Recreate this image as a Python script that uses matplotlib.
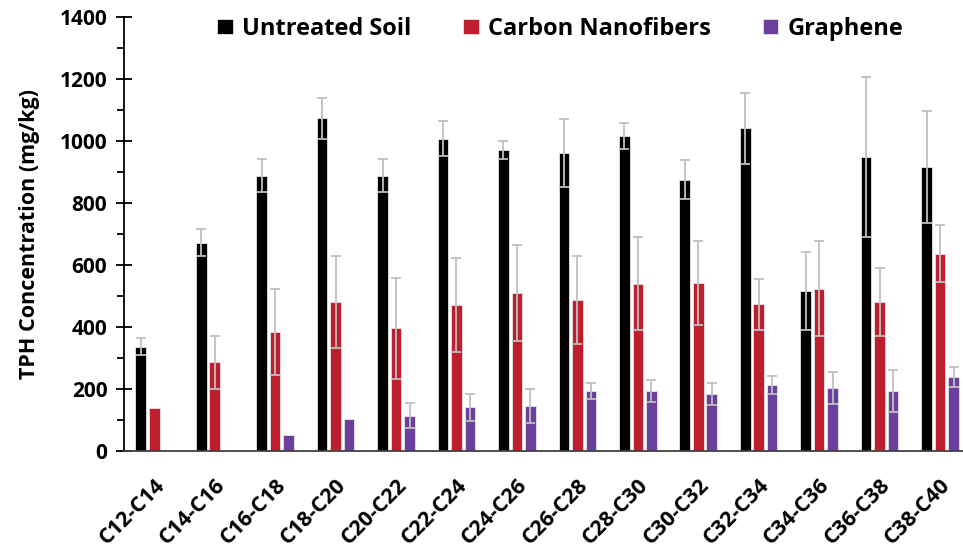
import numpy as np
import matplotlib.pyplot as plt
from matplotlib.ticker import MultipleLocator

plt.rcParams['font.family'] = ['Open Sans', 'DejaVu Sans']

# data
fractions = ['C12-C14', 'C14-C16', 'C16-C18', 'C18-C20', 'C20-C22', 'C22-C24', 'C24-C26',
             'C26-C28', 'C28-C30', 'C30-C32', 'C32-C34', 'C34-C36', 'C36-C38', 'C38-C40']
untreated = [336, 672, 888, 1073, 888, 1008, 971, 962, 1016, 876, 1041, 516, 949, 917]
untreated_err = [27, 44, 53, 65, 53, 57, 28, 109, 41, 63, 114, 125, 257, 181]
cnf = [138, 286, 385, 480, 396, 470, 509, 487, 539, 542, 473, 524, 482, 636]
cnf_err = [0, 85, 139, 148, 163, 152, 155, 142, 150, 135, 83, 153, 110, 92]
graphene = [0, 0, 52, 102, 114, 141, 145, 194, 194, 183, 213, 204, 194, 239]
graphene_err = [0, 0, 0, 0, 40, 43, 55, 25, 36, 35, 29, 51, 67, 32]

series = [
    ('Untreated Soil', untreated, untreated_err, '#000000'),
    ('Carbon Nanofibers', cnf, cnf_err, '#BE1E2D'),
    ('Graphene', graphene, graphene_err, '#6A409C'),
]

fig = plt.figure(figsize=(9.63, 5.54), dpi=100)
ax = fig.add_axes([0.1288, 0.186, 0.8712, 0.783])

x = np.arange(len(fractions))
w = 0.175
step = 0.223
for i, (name, vals, errs, col) in enumerate(series):
    pos = x + (i - 1) * step
    ax.bar(pos, vals, width=w, color=col, edgecolor='#e6e6e6', linewidth=0.6, label=name, zorder=2)
    errs = np.array(errs, dtype=float)
    m = errs > 0
    ax.errorbar(pos[m], np.array(vals)[m], yerr=errs[m], fmt='none', ecolor='#BFBFBF',
                elinewidth=1.3, capsize=3.8, capthick=1.3, zorder=3)

ax.set_xlim(-0.5, 13.38)
ax.set_ylim(0, 1400)
ax.yaxis.set_major_locator(MultipleLocator(200))
ax.yaxis.set_minor_locator(MultipleLocator(100))
ax.tick_params(axis='y', which='major', direction='inout', length=12, width=1.3, labelsize=15, pad=6)
ax.tick_params(axis='y', which='minor', direction='out', length=5, width=1.3)
ax.tick_params(axis='x', length=0, pad=17)
for lab in ax.get_yticklabels():
    lab.set_fontweight('bold')

ax.set_xticks(x)
ax.set_xticklabels(fractions, rotation=45, ha='right', rotation_mode='anchor',
                   fontsize=15.5, fontweight='bold')

ax.spines['top'].set_visible(False)
ax.spines['right'].set_visible(False)
ax.spines['left'].set_linewidth(1.3)
ax.spines['bottom'].set_linewidth(1.3)
ax.spines['bottom'].set_color('#404040')

ax.set_ylabel('TPH Concentration (mg/kg)', fontsize=15.5, fontweight='bold', labelpad=14)

ax.legend(loc='center', bbox_to_anchor=(0.52, 0.973), ncol=3, frameon=False,
          prop={'size': 17, 'weight': 'bold'}, handlelength=0.65, handleheight=0.65,
          handletextpad=0.4, columnspacing=2.2)

fig.savefig('out.png', dpi=100)
